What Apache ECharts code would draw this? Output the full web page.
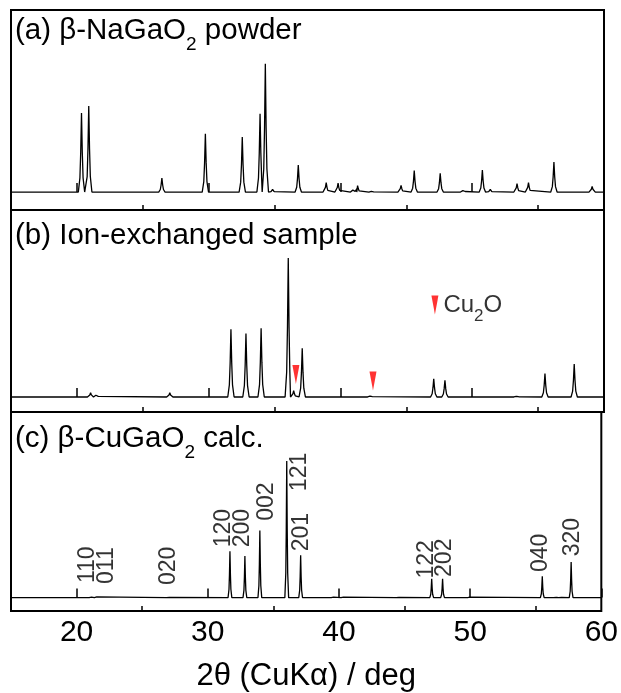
<!DOCTYPE html>
<html><head><meta charset="utf-8">
<script src="https://cdn.jsdelivr.net/npm/echarts@6/dist/echarts.min.js"></script>
<style>html,body{margin:0;padding:0;background:#fff}#c{width:621px;height:693px}</style>
</head><body><div id="c"></div>
<script>
// ---- data ----
const majorTicks = [20, 30, 40, 50, 60];
const minorTicks = [25, 35, 45, 55];

// (a) beta-NaGaO2 powder
const peakPosA = [20.35, 20.9, 26.45, 29.75, 32.55, 33.9, 34.3, 34.85, 36.8, 38.92, 39.82, 41.0, 41.3, 42.4, 44.6, 45.6, 47.57, 49.35, 50.77, 51.37, 53.4, 54.27, 56.2, 59.1];
const peakIntA = [0.617, 0.672, 0.11, 0.455, 0.43, 0.61, 1.0, 0.02, 0.21, 0.073, 0.07, 0.03, 0.05, 0.01, 0.052, 0.167, 0.146, 0.023, 0.172, 0.02, 0.065, 0.073, 0.234, 0.044];

// (b) ion-exchanged sample
const peakPosB = [21.04, 21.5, 27.05, 31.69, 32.83, 33.98, 36.04, 36.45, 37.1, 42.3, 47.08, 47.93, 53.4, 55.52, 57.74];
const peakIntB = [0.03, 0.025, 0.03, 0.487, 0.456, 0.494, 1.0, 0.045, 0.35, 0.012, 0.13, 0.12, 0.01, 0.168, 0.237];

// Cu2O markers
const cu2oX = [36.62, 42.47];
const cu2oY = [0.162, 0.115];
const cu2oKeyX = 47.17, cu2oKeyY = 0.662;

// (c) beta-CuGaO2 calculated
const calcPos = [21.1, 21.5, 27.0, 31.69, 32.83, 33.97, 36.02, 37.08, 39.55, 40.3, 44.5, 47.07, 47.9, 49.95, 55.5, 56.5, 56.9, 57.7];
const calcInt = [0.008, 0.012, 0.006, 0.34, 0.305, 0.492, 1.0, 0.31, 0.008, 0.008, 0.006, 0.138, 0.138, 0.008, 0.156, 0.006, 0.006, 0.26];

// hkl labels
const hklText = ['110', '011', '020', '120', '200', '002', '121', '201', '122', '202', '040', '320'];
const hklX = [20.87, 22.26, 27.0, 31.24, 32.67, 34.5, 36.99, 37.12, 46.66, 48.06, 55.39, 57.79];
const hklY = [0.241, 0.234, 0.232, 0.509, 0.509, 0.703, 0.92, 0.48, 0.28, 0.292, 0.328, 0.443];

// ---- build (peak outline: foot, shoulder, half-height, apex) ----
const shapeOff = [0.24, 0.12, 0.06];
const shapeFrac = [0, 0.18, 0.5];
function profile(pos, inten, s) {
  const pts = [];
  pos.forEach((p, i) => {
    const h = inten[i];
    for (let k = 0; k < 3; k++) pts.push([p - shapeOff[k] * s, h * shapeFrac[k]]);
    pts.push([p, h]);
    for (let k = 2; k >= 0; k--) pts.push([p + shapeOff[k] * s, h * shapeFrac[k]]);
  });
  pts.sort((a, b) => a[0] - b[0]);
  return [[15, 0]].concat(pts, [[60, 0]]);
}

const FONT = '"Liberation Sans", Arial, sans-serif';
const L = 11, R = 17;
const grids = [
  { left: L, right: R, top: 10, height: 200 },
  { left: L, right: R, top: 210, height: 202 },
  { left: L, right: R, top: 412, height: 201 }
];
const yRanges = [[-0.14, 1.42], [-0.108, 1.345], [-0.098, 1.359]];

const grid = grids.map(g => Object.assign({ show: true, borderColor: '#000', borderWidth: 2, backgroundColor: 'transparent' }, g));

const xAxis = [];
const yAxis = [];
grids.forEach((g, i) => {
  xAxis.push({
    type: 'value', gridIndex: i, min: 15, max: 60,
    axisLine: { show: false },
    splitLine: { show: false },
    axisTick: { show: true, inside: true, length: 9, customValues: majorTicks, lineStyle: { color: '#000', width: 1.5 } },
    axisLabel: i === 2 ? { show: true, customValues: majorTicks, fontSize: 30, color: '#000', fontFamily: FONT, margin: 7 } : { show: false },
    name: i === 2 ? '2θ (CuKα) / deg' : '',
    nameLocation: 'middle', nameGap: 50,
    nameTextStyle: { fontSize: 31, color: '#000', fontFamily: FONT }
  });
  xAxis.push({
    type: 'value', gridIndex: i, min: 15, max: 60, position: 'bottom',
    axisLine: { show: false }, splitLine: { show: false }, axisLabel: { show: false },
    axisTick: { show: true, inside: true, length: 5, customValues: minorTicks, lineStyle: { color: '#000', width: 1.5 } }
  });
  yAxis.push({ type: 'value', gridIndex: i, min: yRanges[i][0], max: yRanges[i][1], show: false });
});

const lineStyle = { color: '#000', width: 1.3 };
const redTri = { symbol: 'triangle', symbolRotate: 180, symbolSize: [7, 19], itemStyle: { color: '#ff0000' } };

const series = [
  { type: 'line', xAxisIndex: 0, yAxisIndex: 0, data: profile(peakPosA, peakIntA, 1), showSymbol: false, lineStyle, silent: true },
  { type: 'line', xAxisIndex: 2, yAxisIndex: 1, data: profile(peakPosB, peakIntB, 1), showSymbol: false, lineStyle, silent: true },
  { type: 'line', xAxisIndex: 4, yAxisIndex: 2, data: profile(calcPos, calcInt, 0.6), showSymbol: false, lineStyle, silent: true },
  Object.assign({ type: 'scatter', xAxisIndex: 2, yAxisIndex: 1, data: cu2oX.map((x, i) => [x, cu2oY[i]]), z: 5 }, redTri),
  Object.assign({
    type: 'scatter', xAxisIndex: 2, yAxisIndex: 1, data: [[cu2oKeyX, cu2oKeyY]], z: 5,
    label: {
      show: true, position: 'right', distance: 5,
      formatter: '{a|Cu}{s|2}{a|O}',
      rich: {
        a: { fontSize: 24, color: '#000', fontFamily: FONT, lineHeight: 26 },
        s: { fontSize: 17, color: '#000', fontFamily: FONT, lineHeight: 17, padding: [22, 0, 0, 0] }
      }
    }
  }, redTri),
  {
    type: 'scatter', xAxisIndex: 4, yAxisIndex: 2, symbolSize: 0, z: 6,
    data: hklText.map((t, i) => ({ value: [hklX[i], hklY[i]], name: t })),
    label: { show: true, position: 'inside', rotate: 90, formatter: p => p.name, fontSize: 23, color: '#000', fontFamily: FONT }
  }
];

function panelTitle(pre, sub, post, top) {
  return {
    type: 'text', left: 15, top: top, z: 10,
    style: {
      text: '{a|' + pre + '}' + (sub ? '{s|' + sub + '}' : '') + '{a|' + post + '}',
      rich: {
        a: { fontSize: 29.5, fill: '#000', fontFamily: FONT, lineHeight: 33 },
        s: { fontSize: 19, fill: '#000', fontFamily: FONT, lineHeight: 19, padding: [28, 0, 0, 0] }
      }
    }
  };
}

const chart = echarts.init(document.getElementById('c'), null, { renderer: 'canvas' });
chart.setOption({
  animation: false,
  backgroundColor: '#fff',
  grid, xAxis, yAxis, series,
  graphic: [
    panelTitle('(a) β-NaGaO', '2', ' powder', 7),
    panelTitle('(b) Ion-exchanged sample', '', '', 221),
    panelTitle('(c) β-CuGaO', '2', ' calc.', 415)
  ]
});
</script></body></html>
